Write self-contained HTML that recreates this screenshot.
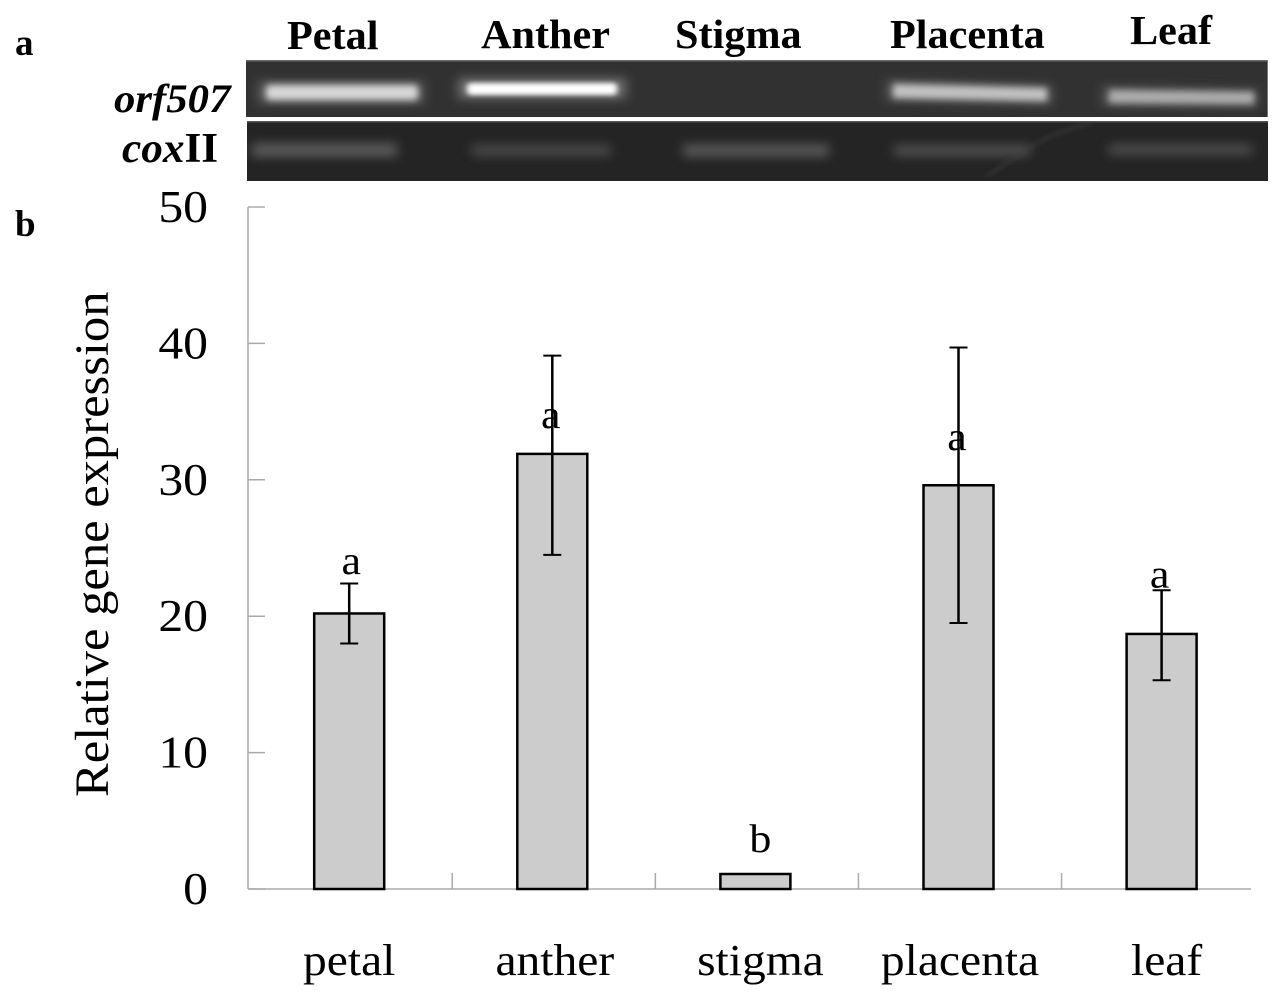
<!DOCTYPE html>
<html lang="en">
<head>
<meta charset="utf-8">
<title>orf507 relative gene expression</title>
<style>
html,body{margin:0;padding:0;background:#fff;}
svg{display:block;}
text{font-family:"Liberation Serif",serif;fill:#000;}
.head{font-weight:bold;font-size:41px;}
.panel{font-weight:bold;font-size:37px;}
</style>
</head>
<body>
<svg id="figure" width="1285" height="1000" viewBox="0 0 1285 1000" xmlns="http://www.w3.org/2000/svg">
  <defs>
    <filter id="b2" filterUnits="userSpaceOnUse" x="240" y="55" width="1035" height="130"><feGaussianBlur stdDeviation="3 2.5"/></filter>
    <filter id="b3" filterUnits="userSpaceOnUse" x="240" y="55" width="1035" height="130"><feGaussianBlur stdDeviation="3.5 3.5"/></filter>
    <filter id="b5" filterUnits="userSpaceOnUse" x="240" y="55" width="1035" height="130"><feGaussianBlur stdDeviation="5.5 5"/></filter>
    <clipPath id="clip-top"><rect x="246" y="60" width="1022" height="57"/></clipPath>
    <clipPath id="clip-bottom"><rect x="247" y="121" width="1021" height="60"/></clipPath>
  </defs>

  <text class="panel" x="15" y="55">a</text>
  <text class="panel" x="15" y="236">b</text>

  <text class="head" transform="translate(287,49) scale(1.03,1)">Petal</text>
  <text class="head" transform="translate(481,48) scale(1.03,1)">Anther</text>
  <text class="head" transform="translate(675,48) scale(1.03,1)">Stigma</text>
  <text class="head" transform="translate(890,48) scale(1.03,1)">Placenta</text>
  <text class="head" transform="translate(1130,44) scale(1.03,1)">Leaf</text>

  <text transform="translate(114,112) scale(1.07,1)" font-size="40" font-weight="bold" font-style="italic">orf507</text>
  <text transform="translate(122,162) scale(1.03,1)" font-size="42" font-weight="bold"><tspan font-style="italic">cox</tspan>II</text>

  <g>
    <rect x="246" y="60" width="1022" height="57" fill="#313131"/>
    <rect x="246" y="60" width="1022" height="1.5" fill="#6a6a6a"/>
    <rect x="1267" y="60" width="1" height="57" fill="#777777"/>
    <g clip-path="url(#clip-top)">
      <rect x="258" y="81" width="166" height="23" fill="#5c5c5c" filter="url(#b5)"/>
      <rect x="266" y="85" width="152" height="15" rx="4" fill="#d8d8d8" filter="url(#b3)"/>
      <rect x="458" y="78" width="168" height="21" fill="#6e6e6e" filter="url(#b5)"/>
      <rect x="467" y="83" width="150" height="12" rx="4" fill="#ffffff" filter="url(#b2)"/>
      <path d="M886 80 L1052 85 L1052 105 L886 101 Z" fill="#565656" filter="url(#b5)"/>
      <path d="M893 84 L1047 88 L1047 101 L893 98 Z" fill="#c2c2c2" filter="url(#b3)"/>
      <path d="M1102 86 L1258 89 L1258 108 L1102 106 Z" fill="#525252" filter="url(#b5)"/>
      <path d="M1109 90 L1254 92 L1254 104 L1109 103 Z" fill="#adadad" filter="url(#b3)"/>
    </g>
  </g>

  <g>
    <rect x="247" y="121" width="1021" height="60" fill="#242424"/>
    <rect x="247" y="121" width="1021" height="1.5" fill="#555555"/>
    <g clip-path="url(#clip-bottom)">
      <rect x="252" y="143" width="145" height="14" fill="#585858" filter="url(#b5)"/>
      <rect x="472" y="145" width="138" height="11" fill="#4a4a4a" filter="url(#b5)"/>
      <rect x="683" y="144" width="146" height="13" fill="#555555" filter="url(#b5)"/>
      <rect x="894" y="145" width="136" height="11" fill="#505050" filter="url(#b5)"/>
      <rect x="1109" y="144" width="143" height="11" fill="#4c4c4c" filter="url(#b5)"/>
      <path d="M987 176 L1027 149 Q1055 131 1092 123" fill="none" stroke="#3e3e3e" stroke-width="2" filter="url(#b2)"/>
    </g>
  </g>

  <rect x="246" y="117" width="1022" height="4" fill="#ffffff"/>

  <g id="chart"></g>
</svg>

<script>
const categories = ['petal', 'anther', 'stigma', 'placenta', 'leaf'];
const expression = [20.2, 31.9, 1.1, 29.6, 18.7];
const errorHigh = [22.4, 39.1, null, 39.7, 21.9];
const errorLow = [18.0, 24.5, null, 19.5, 15.3];
const significance = ['a', 'a', 'b', 'a', 'a'];
const significanceLevel = [23.1, 33.8, 2.7, 32.2, 22.1];
const yTicks = [0, 10, 20, 30, 40, 50];
const yTitle = 'Relative gene expression';

const NS = 'http://www.w3.org/2000/svg';
const chart = document.getElementById('chart');
const plot = { left: 248, right: 1251, top: 207, bottom: 889, max: 50, barWidth: 70, band: 203.1, first: 349.2 };
const xScale = i => plot.first + plot.band * i;
const yScale = v => plot.bottom - (v / plot.max) * (plot.bottom - plot.top);
const labelShift = [0, 2.5, 5, 1.5, 5];
const sigShift = [2, -1.5, 5, -1.5, -2];
const tickShift = 1.5;

function make(tag, attrs, text) {
  const el = document.createElementNS(NS, tag);
  for (const k in attrs) el.setAttribute(k, attrs[k]);
  if (text !== undefined) el.textContent = text;
  chart.appendChild(el);
  return el;
}

const axisColor = '#aaaaaa';

const yAxis = make('line', { x1: plot.left, x2: plot.left, y1: plot.top, y2: plot.bottom, stroke: axisColor, 'stroke-width': 1.5 });



for (let i = 1; i < categories.length; i++) {
  const tx = xScale(i) - plot.band / 2 + tickShift;
  const tick = make('line', { x1: tx, x2: tx, y1: plot.bottom - 16, y2: plot.bottom, stroke: axisColor, 'stroke-width': 1.5 });
  
  
}

const xAxis = make('line', { x1: plot.left, x2: plot.right, y1: plot.bottom, y2: plot.bottom, stroke: axisColor, 'stroke-width': 1.5 });



yTicks.forEach(t => {
  const y = yScale(t);
  const tick = make('line', { x1: plot.left, x2: plot.left + 17, y1: y, y2: y, stroke: axisColor, 'stroke-width': 1.5 });
  
  
  const label = make('text', { transform: `translate(208,${y + 15}) scale(1.08,1)`, 'text-anchor': 'end', 'font-size': 46 }, String(t));
  
  
});

const title = make('text', { transform: `translate(108,797) rotate(-90) scale(1.065,1)`, 'font-size': 47.5 }, yTitle);



categories.forEach((c, i) => {
  const x = xScale(i);
  const v = expression[i];

  const bar = make('rect', { x: x - plot.barWidth / 2, y: yScale(v), width: plot.barWidth, height: plot.bottom - yScale(v), fill: '#cccccc', stroke: '#000', 'stroke-width': 2.5 });
  
  

  if (errorHigh[i] !== null) {
    const hi = yScale(errorHigh[i]);
    const lo = yScale(errorLow[i]);
    const stem = make('line', { x1: x, x2: x, y1: hi, y2: lo, stroke: '#000', 'stroke-width': 2.5 });
    
    
    const capTop = make('line', { x1: x - 9, x2: x + 9, y1: hi, y2: hi, stroke: '#000', 'stroke-width': 2 });
    
    
    const capBottom = make('line', { x1: x - 9, x2: x + 9, y1: lo, y2: lo, stroke: '#000', 'stroke-width': 2 });
    
    
  }

  const sig = make('text', { transform: `translate(${x + sigShift[i]},${yScale(significanceLevel[i])}) scale(1.1,1)`, 'text-anchor': 'middle', 'font-size': 40 }, significance[i]);
  
  

  const cat = make('text', { transform: `translate(${x + labelShift[i]},975) scale(1.08,1)`, 'text-anchor': 'middle', 'font-size': 44 }, c);
  
  
});
</script>
</body>
</html>
